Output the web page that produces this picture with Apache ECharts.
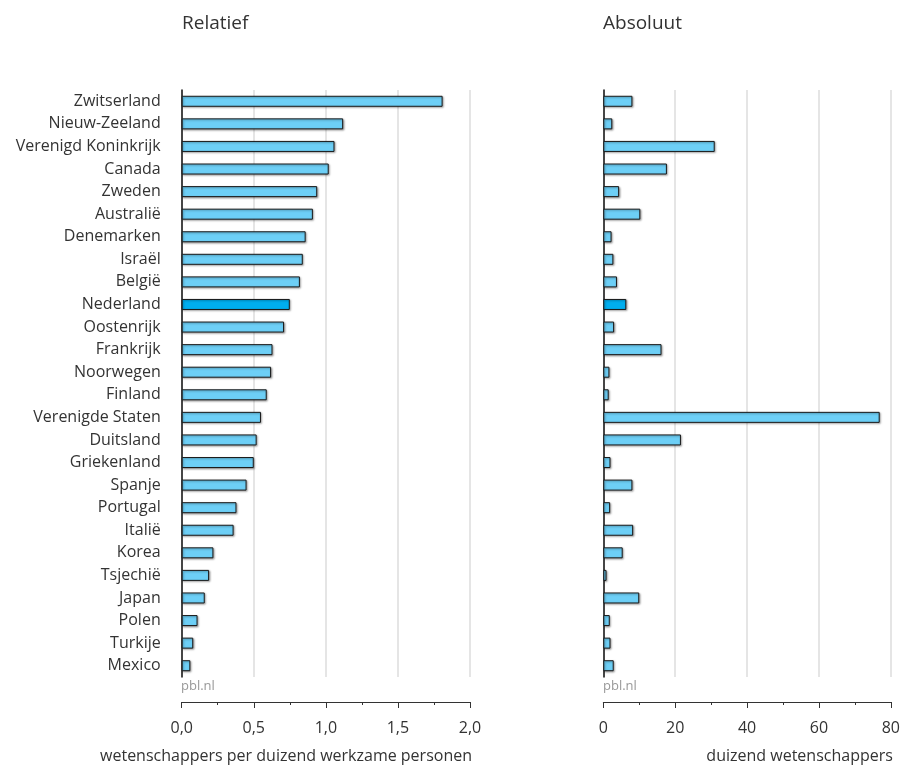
<!DOCTYPE html>
<html>
<head>
<meta charset="utf-8">
<script src="https://cdn.jsdelivr.net/npm/echarts@6/dist/echarts.min.js"></script>
<style>
html,body{margin:0;padding:0;background:#fff;}
#c{width:903px;height:769px;}
</style>
</head>
<body>
<div id="c"></div>
<script>
const countries = ["Zwitserland","Nieuw-Zeeland","Verenigd Koninkrijk","Canada","Zweden","Australië","Denemarken","Israël","België","Nederland","Oostenrijk","Frankrijk","Noorwegen","Finland","Verenigde Staten","Duitsland","Griekenland","Spanje","Portugal","Italië","Korea","Tsjechië","Japan","Polen","Turkije","Mexico"];
const relatief = [1.81,1.12,1.06,1.02,0.94,0.91,0.86,0.84,0.82,0.75,0.71,0.63,0.62,0.59,0.55,0.52,0.50,0.45,0.38,0.36,0.22,0.19,0.16,0.11,0.08,0.06];
const absoluut = [8.1,2.5,31.0,17.7,4.4,10.3,2.3,2.8,3.8,6.4,3.0,16.2,1.7,1.5,76.9,21.6,2.0,8.1,1.9,8.3,5.4,0.9,10.0,1.8,2.0,2.9];
const highlight = "Nederland";
const titles = ["Relatief","Absoluut"];
const axisNames = ["wetenschappers per duizend werkzame personen","duizend wetenschappers"];
const source = "pbl.nl";

const FONT = "'Open Sans', 'Noto Sans', sans-serif";
const barColor = "#6DCFF6";
const hiColor = "#00AEEF";

function mk(vals){
  return vals.map((v,i)=>({
    value:v,
    itemStyle:{color: countries[i]===highlight ? hiColor : barColor}
  }));
}

const chart = echarts.init(document.getElementById('c'), null, {renderer:'canvas'});
const grids = [
  {left:181.7, top:90, width:288.3, bottom:92},
  {left:603.3, top:90, width:289, bottom:92}
];
const xAxisCommon = (gi, max, interval, fmt) => ({
  type:'value', gridIndex:gi, min:0, max:max, interval:interval,
  position:'bottom', offset:25,
  axisLine:{show:true, lineStyle:{color:'#333', width:1}},
  axisTick:{show:true, length:6, lineStyle:{color:'#333', width:1}},
  minorTick:{show:true, splitNumber:2, length:3, lineStyle:{color:'#333', width:1}},
  splitLine:{show:true, lineStyle:{color:'#dddddd', width:1.5}},
  axisLabel:{color:'#333', fontSize:16, fontFamily:FONT, margin:18, formatter:fmt},
  name:axisNames[gi], nameLocation:'end', nameGap:2,
  nameTextStyle:{color:'#333', fontSize:16, fontFamily:FONT, align:'right', verticalAlign:'top', padding:[46,0,0,0]}
});
const yAxisCommon = (gi, showLabels) => ({
  type:'category', gridIndex:gi, data:countries, inverse:true,
  axisLine:{show:true, lineStyle:{color:'#111', width:1.5}},
  axisTick:{show:false},
  axisLabel:{show:showLabels, color:'#333', fontSize:16, fontFamily:FONT, margin:21},
  splitLine:{show:false}
});
const barStyle = {
  borderColor:'#1a1a1a', borderWidth:1,
  shadowColor:'rgba(0,0,0,0.35)', shadowBlur:2, shadowOffsetX:1, shadowOffsetY:1
};

chart.setOption({
  animation:false,
  backgroundColor:'#fff',
  textStyle:{fontFamily:FONT},
  title:[
    {text:titles[0], left:182, top:14, padding:0, textStyle:{fontSize:19, fontWeight:'normal', color:'#333', fontFamily:FONT}},
    {text:titles[1], left:603, top:14, padding:0, textStyle:{fontSize:19, fontWeight:'normal', color:'#333', fontFamily:FONT}}
  ],
  grid:grids,
  xAxis:[
    xAxisCommon(0, 2, 0.5, v => v.toFixed(1).replace('.', ',')),
    xAxisCommon(1, 80, 20, v => String(v))
  ],
  yAxis:[yAxisCommon(0,true), yAxisCommon(1,false)],
  series:[
    {type:'bar', xAxisIndex:0, yAxisIndex:0, data:mk(relatief), barWidth:11, itemStyle:barStyle},
    {type:'bar', xAxisIndex:1, yAxisIndex:1, data:mk(absoluut), barWidth:11, itemStyle:barStyle}
  ],
  graphic:[
    {type:'text', left:181, top:680, style:{text:source, fill:'#999', fontSize:13, fontFamily:FONT}},
    {type:'text', left:603, top:680, style:{text:source, fill:'#999', fontSize:13, fontFamily:FONT}}
  ]
});
</script>
</body>
</html>
